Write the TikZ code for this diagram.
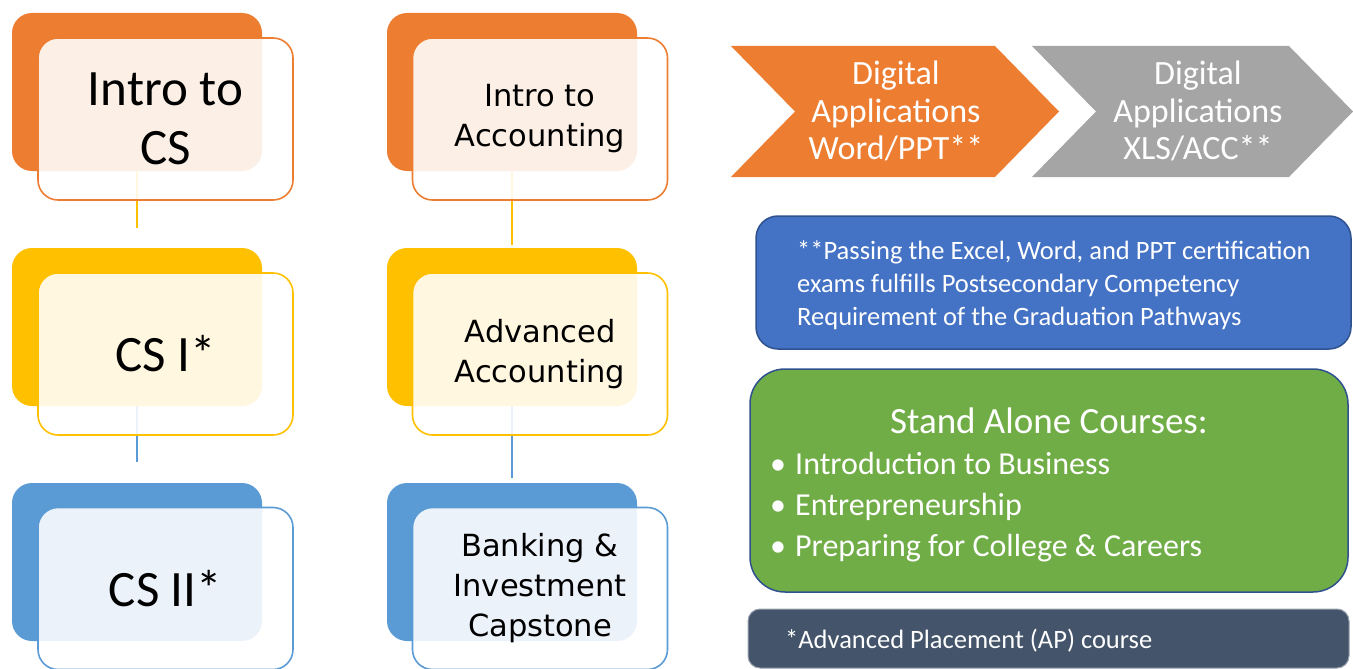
\documentclass[tikz,border=0pt]{standalone}
\usepackage{fontspec}
\setmainfont{Carlito}
\newfontfamily\wideface{DejaVu Sans}
\usepackage{xcolor}
\usetikzlibrary{calc}
\definecolor{cOrange}{HTML}{ED7D31}
\definecolor{cGold}{HTML}{FFC000}
\definecolor{cBlue}{HTML}{5B9BD5}
\definecolor{cGray}{HTML}{A5A5A5}
\definecolor{cNote}{HTML}{4472C4}
\definecolor{cEdge}{HTML}{2F528F}
\definecolor{cGreen}{HTML}{70AD47}
\definecolor{cSlate}{HTML}{44546A}

\begin{document}
\begin{tikzpicture}[x=1pt,y=-1pt,
    back/.style={rounded corners=20pt,minimum width=250pt,minimum height=158pt,inner sep=0pt},
    front/.style={line width=1.6pt,fill=white,fill opacity=0.88,text opacity=1,rounded corners=20pt,
      minimum width=255pt,minimum height=162pt,inner sep=0pt,align=center},
    link/.style={line width=1.5pt},
    big/.style={font=\fontsize{51}{59}\selectfont},
    wide/.style={font=\wideface\fontsize{30.5}{40}\selectfont},
  ]
    \useasboundingbox (0,0) rectangle (1353,669);
    % back cards
    \foreach \nm/\x/\y/\c in {csA/137/92/cOrange,csB/137/327/cGold,csC/137/562/cBlue,
                              acA/512/92/cOrange,acB/512/327/cGold,acC/512/562/cBlue}
    {
      \node[back,fill=\c] (\nm-back) at (\x,\y) {};
    }
    % links between the cards
    \coordinate (csB-in) at (137,228);
    \coordinate (csC-in) at (137,462);
    \coordinate (acB-in) at (512,245);
    \coordinate (acC-in) at (512,478);
    \draw[link,cGold] (csA-back.south) -- (csB-in);
    \draw[link,cBlue] (csB-back.south) -- (csC-in);
    \draw[link,cGold] (acA-back.south) -- (acB-in);
    \draw[link,cBlue] (acB-back.south) -- (acC-in);
    % front cards
    \node[front,big,draw=cOrange] (csA) at (165.5,119) {Intro to\\CS};
    \node[front,big,draw=cGold] (csB) at (165.5,354) {CS I*};
    \node[front,big,draw=cBlue] (csC) at (165.5,588.5) {CS II*};
    \node[front,wide,draw=cOrange] (acA) at (540,119) {Intro to\\Accounting};
    \node[front,wide,draw=cGold] (acB) at (540,354) {Advanced\\Accounting};
    \node[front,wide,draw=cBlue] (acC) at (540,588.5) {Banking \&\\Investment\\Capstone};
    % chevrons
    \fill[cOrange] (731,46) -- (995,46) -- (1059,111.5) -- (995,177) -- (731,177) -- (795,111.5) -- cycle;
    \fill[cGray] (1032,46) -- (1289,46) -- (1353,111.5) -- (1289,177) -- (1032,177) -- (1096,111.5) -- cycle;
    \node[white,align=center,font=\fontsize{34}{37.5}\selectfont] (wordppt) at (896,111) {Digital\\Applications\\Word/PPT**};
    \node[white,align=center,font=\fontsize{34}{37.5}\selectfont] (xlsacc) at (1198,111) {Digital\\Applications\\XLS/ACC**};
    % notes
    \node[draw=cEdge,fill=cNote,line width=1.5pt,rounded corners=22pt,minimum width=595pt,minimum height=133pt] (pathnote) at (1053.5,282.5) {};
    \node[white,anchor=west,align=left,inner sep=0pt,font=\fontsize{26.5}{33}\selectfont] (pathtext) at (797,285)
      {**Passing the Excel, Word, and PPT certification\\exams fulfills Postsecondary Competency\\Requirement of the Graduation Pathways};
    \node[draw=cEdge,fill=cGreen,line width=1.5pt,rounded corners=35pt,minimum width=598pt,minimum height=223pt] (alone) at (1049,480.5) {};
    \node[white,font=\fontsize{37}{44}\selectfont] (alonetitle) at (1049,421) {Stand Alone Courses:};
    \node[white,anchor=west,align=left,inner sep=0pt,font=\fontsize{32}{41}\selectfont] (alonelist) at (770,507)
      {\makebox[25pt][l]{\textbullet}Introduction to Business\\\makebox[25pt][l]{\textbullet}Entrepreneurship\\\makebox[25pt][l]{\textbullet}Preparing for College \& Careers};
    \node[draw=cSlate!55!white,fill=cSlate,line width=1pt,rounded corners=12pt,minimum width=601pt,minimum height=59pt] (apnote) at (1048.5,638.5) {};
    \node[white,anchor=west,inner sep=0pt,font=\fontsize{26.5}{32}\selectfont] (aptext) at (785,641) {*Advanced Placement (AP) course};
\end{tikzpicture}
\end{document}
